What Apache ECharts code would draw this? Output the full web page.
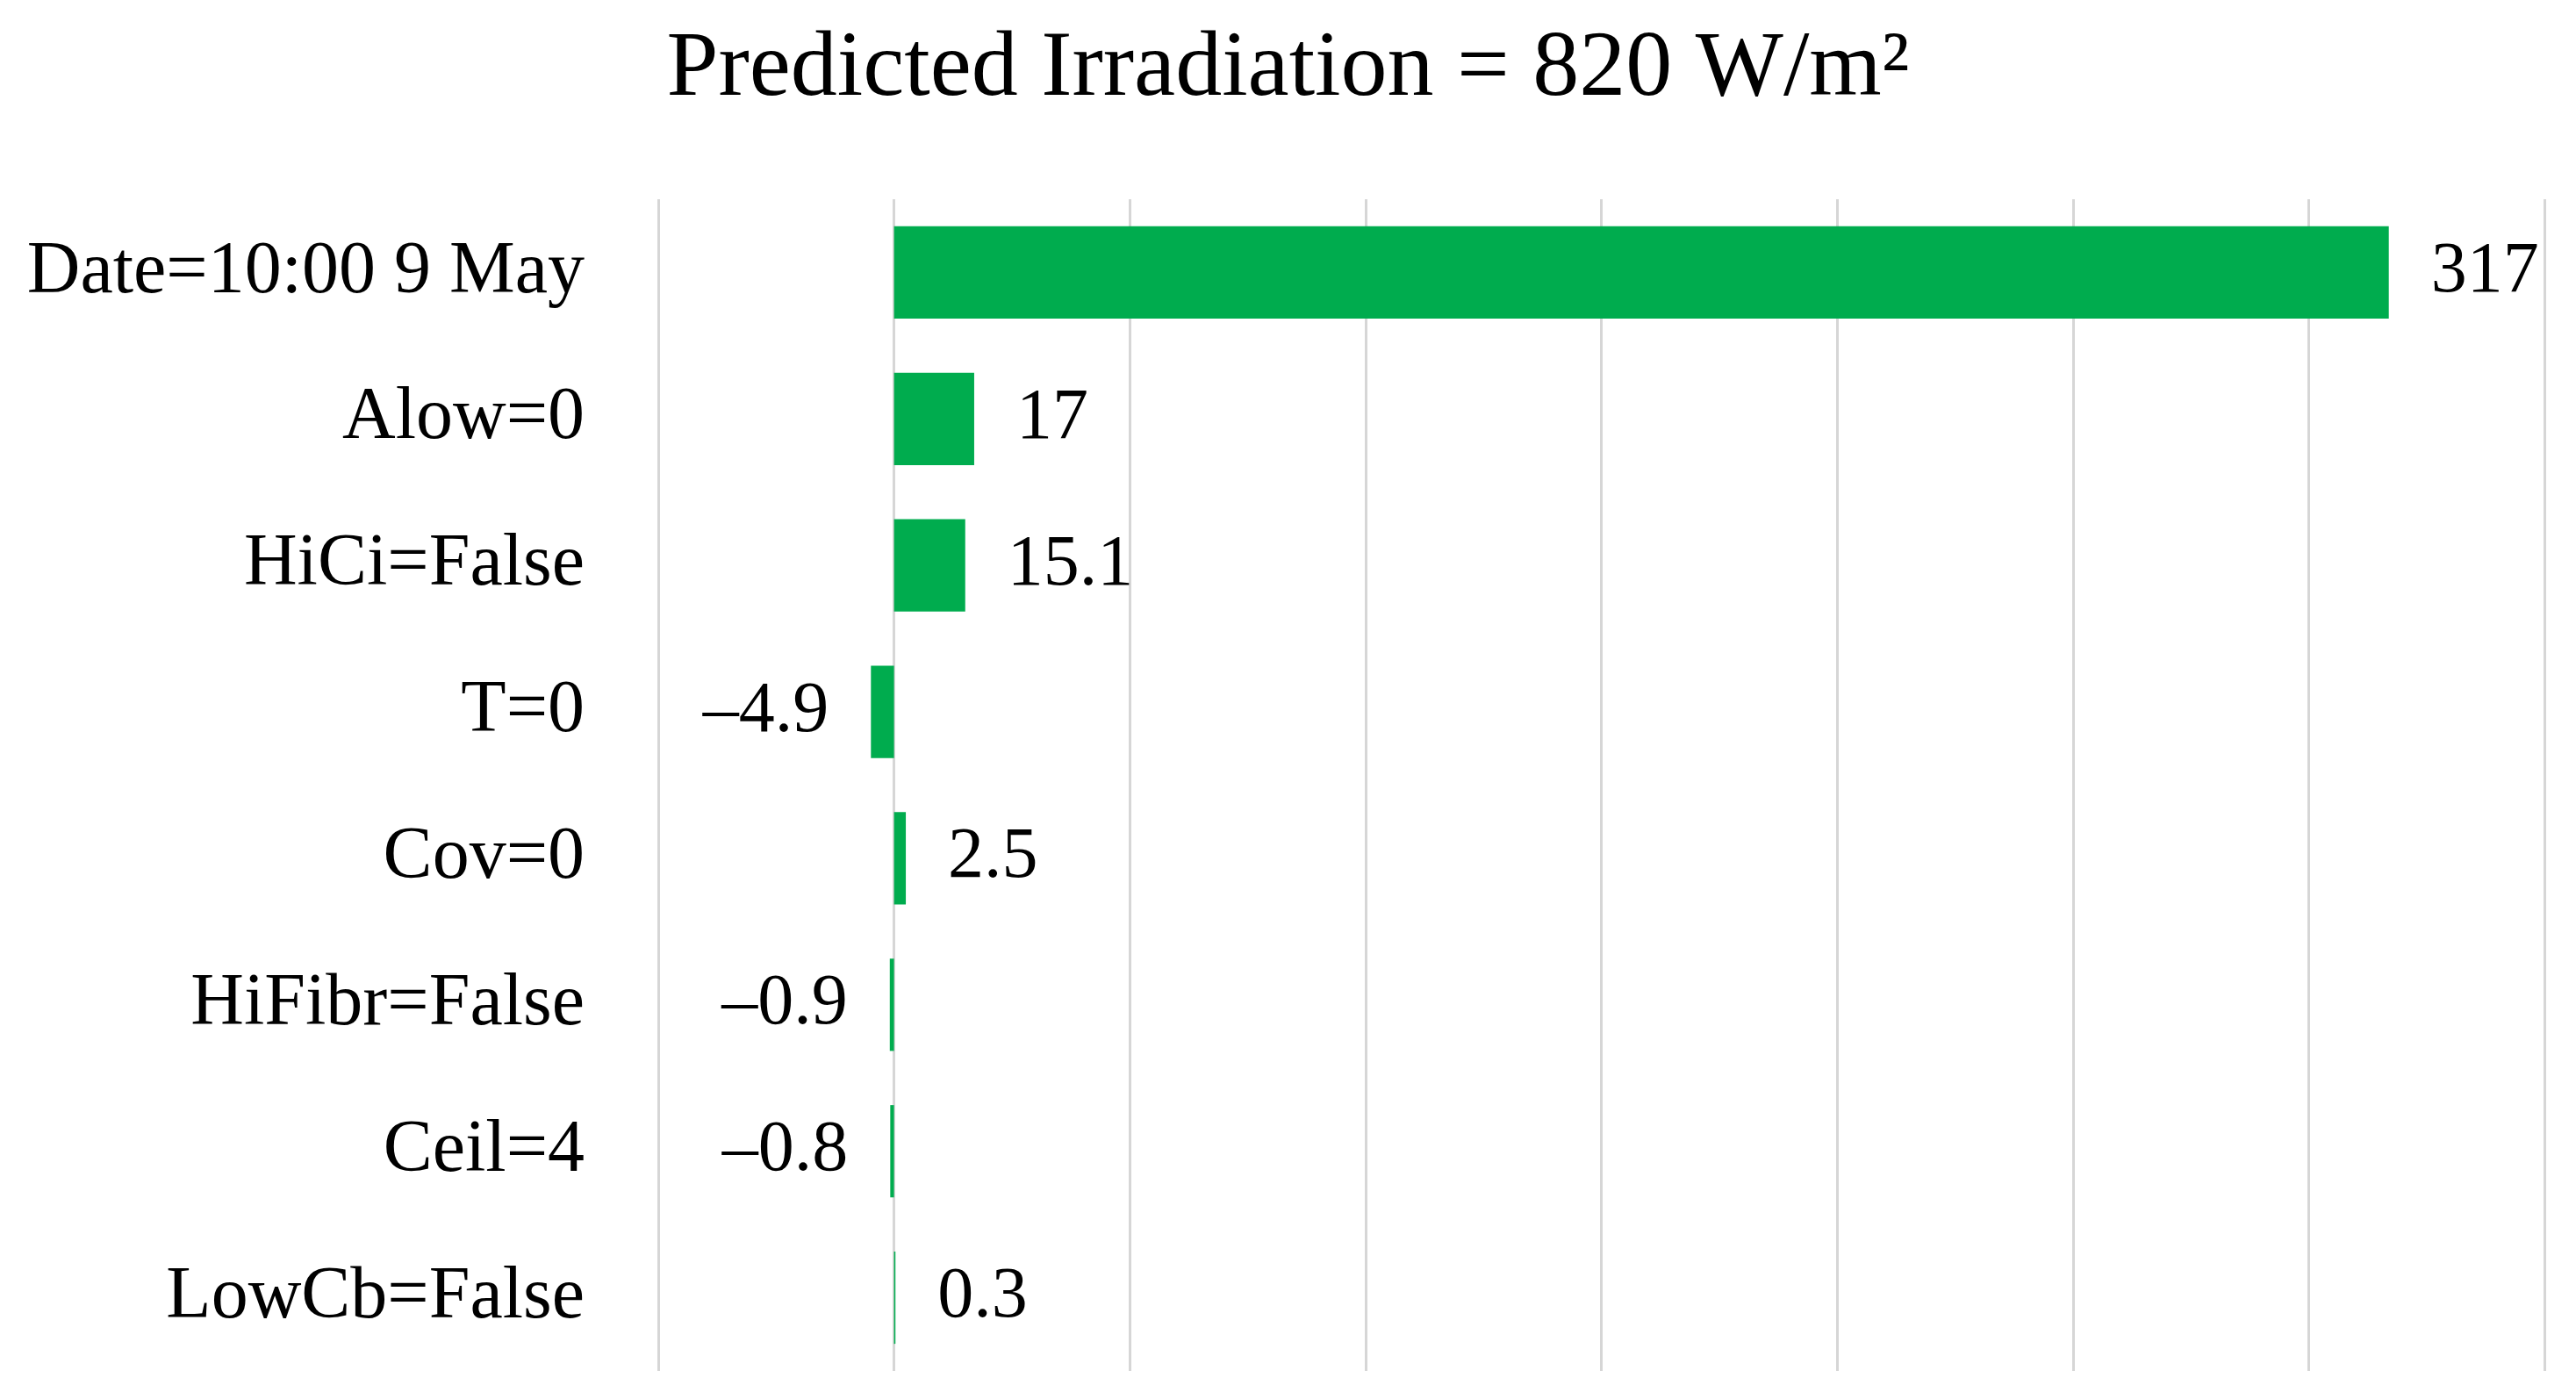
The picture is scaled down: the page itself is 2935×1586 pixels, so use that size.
<!DOCTYPE html>
<html>
<head>
<meta charset="utf-8">
<script src="https://cdn.jsdelivr.net/npm/echarts@6/dist/echarts.min.js"></script>
<style>
html,body{margin:0;padding:0;background:#fff;}
#chart{width:2935px;height:1586px;}
</style>
</head>
<body>
<div id="chart"></div>
<script>
const titleText = 'Predicted Irradiation = 820 W/m\u00B2';
const categories = ['Date=10:00 9 May', 'Alow=0', 'HiCi=False', 'T=0', 'Cov=0', 'HiFibr=False', 'Ceil=4', 'LowCb=False'];
const contributions = [317, 17, 15.1, -4.9, 2.5, -0.9, -0.8, 0.3];
const axisMin = -50, axisMax = 350, axisStep = 50;

const FONT = '"Liberation Serif", "DejaVu Serif", serif';
const chart = echarts.init(document.getElementById('chart'));

const barData = contributions.map(v => ({
  value: v,
  label: { position: v < 0 ? 'left' : 'right' }
}));

chart.setOption({
  backgroundColor: '#ffffff',
  animation: false,
  title: {
    text: titleText,
    left: 'center',
    top: 22,
    textStyle: { fontFamily: FONT, fontSize: 106, fontWeight: 'normal', color: '#000' }
  },
  grid: { left: 750, right: 36, top: 227, bottom: 24, containLabel: false },
  xAxis: {
    type: 'value',
    min: axisMin, max: axisMax, interval: axisStep,
    axisLabel: { show: false },
    axisLine: { show: false },
    axisTick: { show: false },
    splitLine: { show: true, lineStyle: { color: '#d6d6d6', width: 3 } }
  },
  yAxis: {
    type: 'category',
    data: categories,
    inverse: true,
    axisLine: { show: false, onZero: false },
    axisTick: { show: false },
    axisLabel: { margin: 84, fontFamily: FONT, fontSize: 84, color: '#000' }
  },
  series: [{
    type: 'bar',
    data: barData,
    barWidth: '63%',
    itemStyle: { color: '#00ac4e' },
    label: {
      show: true,
      distance: 48,
      fontFamily: FONT,
      fontSize: 82,
      color: '#000',
      formatter: p => String(p.value).replace('-', '\u2013')
    }
  }]
});
</script>
</body>
</html>
